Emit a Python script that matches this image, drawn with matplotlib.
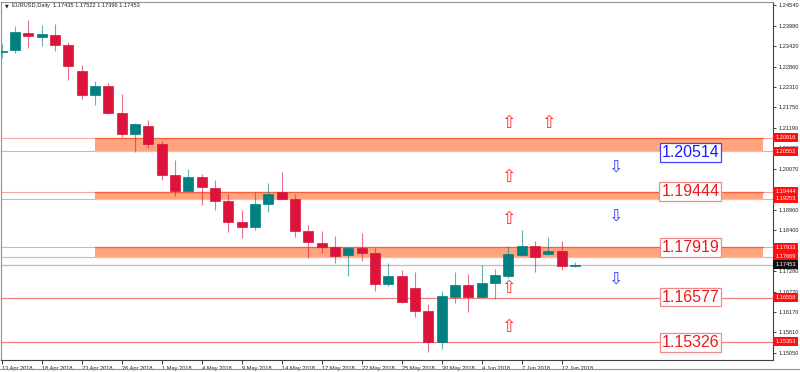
import matplotlib
matplotlib.use("Agg")
import matplotlib.pyplot as plt
import matplotlib.transforms as mtransforms

# daily EURUSD candles, 13 Apr 2018 - 13 Jun 2018
opens = [1.2325, 1.2332, 1.2378, 1.2368, 1.2373, 1.2345, 1.2273, 1.2208, 1.2232, 1.2160, 1.2103,
         1.2124, 1.2076, 1.1990, 1.1948, 1.1984, 1.1955, 1.1920, 1.1861, 1.1848, 1.1911, 1.1943,
         1.1926, 1.1838, 1.1805, 1.1794, 1.1771, 1.1791, 1.1777, 1.1692, 1.1716, 1.1681, 1.1620,
         1.1536, 1.1659, 1.1691, 1.1659, 1.1697, 1.1716, 1.1772, 1.1798, 1.1774, 1.1782, 1.17435]
highs = [1.2348, 1.2398, 1.2413, 1.2399, 1.2402, 1.2353, 1.2291, 1.2247, 1.2241, 1.2211, 1.2133,
         1.2140, 1.2083, 1.2031, 1.2007, 1.1993, 1.1977, 1.1938, 1.1895, 1.1945, 1.1969, 1.1999,
         1.1939, 1.1854, 1.1839, 1.1824, 1.1795, 1.1831, 1.1792, 1.1750, 1.1732, 1.1727, 1.1638,
         1.1675, 1.1727, 1.1720, 1.1745, 1.1733, 1.1797, 1.1840, 1.1811, 1.1821, 1.1811, 1.17522]
lows = [1.2310, 1.2324, 1.2336, 1.2342, 1.2329, 1.2250, 1.2197, 1.2182, 1.2158, 1.2095, 1.2054,
        1.2065, 1.1977, 1.1933, 1.1946, 1.1909, 1.1895, 1.1835, 1.1819, 1.1840, 1.1890, 1.1925,
        1.1821, 1.1763, 1.1777, 1.1750, 1.1716, 1.1757, 1.1675, 1.1689, 1.1642, 1.1604, 1.1507,
        1.1515, 1.1641, 1.1616, 1.1657, 1.1651, 1.1710, 1.1770, 1.1725, 1.1772, 1.1732, 1.17396]
closes = [1.2329, 1.2380, 1.2369, 1.2374, 1.2346, 1.2289, 1.2208, 1.2232, 1.2160, 1.2103, 1.2129,
          1.2075, 1.1990, 1.1948, 1.1985, 1.1959, 1.1920, 1.1861, 1.1848, 1.1912, 1.1939, 1.1926,
          1.1838, 1.1807, 1.1794, 1.1770, 1.1791, 1.1779, 1.1693, 1.1716, 1.1645, 1.1620, 1.1536,
          1.1660, 1.1691, 1.1659, 1.1697, 1.1717, 1.1774, 1.1798, 1.1768, 1.1783, 1.1743, 1.17453]

date_labels = ["13 Apr 2018", "18 Apr 2018", "23 Apr 2018", "26 Apr 2018", "1 May 2018",
               "4 May 2018", "9 May 2018", "14 May 2018", "17 May 2018", "22 May 2018",
               "25 May 2018", "30 May 2018", "4 Jun 2018", "7 Jun 2018", "12 Jun 2018"]
price_ticks = [1.24540, 1.23980, 1.23420, 1.22860, 1.22310, 1.21750, 1.21190, 1.20630,
               1.20070, 1.19510, 1.18960, 1.18400, 1.17840, 1.17280, 1.16720, 1.16170,
               1.15610, 1.15050]

# supply / demand zones (top, bottom) and single levels
zone_tops = [1.20916, 1.19444, 1.17933]
zone_bottoms = [1.20552, 1.19253, 1.17669]
zone_start = 7
level_lines = [1.16558, 1.15353]
last_price = 1.17453

# big level labels
label_prices = [1.20514, 1.19444, 1.17919, 1.16577, 1.15326]
label_colors = ["#1c1cff", "#f01818", "#f01818", "#f01818", "#f01818"]
label_edges = ["#4040ff", "#f08a8a", "#f08a8a", "#f08a8a", "#f08a8a"]

# arrows
up_x = [38, 41, 38, 38, 38, 38]
up_y = [1.2132, 1.2132, 1.1985, 1.1870, 1.1682, 1.1576]
down_x = [46, 46, 46]
down_y = [1.2012, 1.1881, 1.1707]

BULL = "#008080"
BEAR = "#dc143c"
SMALL = dict(fontsize=4.1, family="Liberation Sans")

fig = plt.figure(figsize=(8, 3.72), dpi=100)
ax = fig.add_axes([1 / 800, 12 / 372, 772 / 800, 358 / 372])
ax.set_xlim(-0.05, 57.85)
ax.set_ylim(1.14859, 1.24622)

# full-width level lines
for p in zone_tops + zone_bottoms:
    ax.axhline(p, color="#f6a4a4", lw=0.8, zorder=1)
for p in level_lines:
    ax.axhline(p, color="#f08080", lw=0.9, zorder=1)
ax.axhline(last_price, color="#b4bccb", lw=0.9, zorder=1)

# zones
for top, bot in zip(zone_tops, zone_bottoms):
    ax.fill_between([zone_start, 57.07], bot, top, color="#ffa47e", lw=0, zorder=2)
    ax.plot([zone_start, 57.07], [top, top], color="#f8603c", lw=0.9, zorder=2)
    ax.plot([zone_start, 57.07], [bot, bot], color="#ffb899", lw=0.8, zorder=2)

# candles
idx = list(range(len(opens)))
for i in idx:
    o, h, l, c = opens[i], highs[i], lows[i], closes[i]
    col = BULL if c >= o else BEAR
    ax.vlines(i, l, h, color=col, lw=0.8, alpha=0.6, zorder=3)
    ax.bar(i, max(abs(c - o), 0.00006), bottom=min(o, c), width=0.75, color=col,
           edgecolor=col, lw=0.5, zorder=4)

# arrows
for x, y in zip(up_x, up_y):
    ax.text(x, y, "\u21e7", color="#ff2a2a", fontsize=12.5, ha="center", va="center",
            family="DejaVu Sans", zorder=5)
for x, y in zip(down_x, down_y):
    ax.text(x, y, "\u21e9", color="#3a3aff", fontsize=12.5, ha="center", va="center",
            family="DejaVu Sans", zorder=5)

# big labels
for p, tc, ec in zip(label_prices, label_colors, label_edges):
    ax.text(51.65, p, "%.5f" % p, color=tc, fontsize=11.5, family="Liberation Sans",
            ha="center", va="center", zorder=6,
            bbox=dict(boxstyle="square,pad=0.12", fc="white", ec=ec, lw=0.9))

# right price axis
ax.yaxis.tick_right()
ax.set_yticks(price_ticks)
ax.set_yticklabels(["%.5f" % t for t in price_ticks], **SMALL)
ax.tick_params(axis="y", length=2.5, width=0.6, pad=1.5, colors="#202020")

trans = mtransforms.blended_transform_factory(ax.transAxes, ax.transData)
for p in zone_tops + zone_bottoms + level_lines:
    ax.text(1.003, p, "%.5f" % p, transform=trans, color="white", ha="left", va="center",
            clip_on=False, zorder=7, **SMALL,
            bbox=dict(boxstyle="square,pad=0.35", fc="#ff1010", ec="none"))
ax.text(1.003, last_price, "%.5f" % last_price, transform=trans, color="white",
        ha="left", va="center", clip_on=False, zorder=7, **SMALL,
        bbox=dict(boxstyle="square,pad=0.35", fc="#101010", ec="none"))

# date axis
ax.set_xticks(list(range(0, len(opens), 3)))
ax.set_xticklabels(date_labels, ha="left", **SMALL)
ax.tick_params(axis="x", length=3, width=0.6, pad=1.5, colors="#202020")

for s in ["left", "top"]:
    ax.spines[s].set_color("#909090")
    ax.spines[s].set_linewidth(0.8)
for s in ["right", "bottom"]:
    ax.spines[s].set_color("#404040")
    ax.spines[s].set_linewidth(0.8)

fig.text(5 / 800, 1 - 6 / 372, "\u25bc", fontsize=3.5, color="#202020", ha="left", va="center")
fig.text(12 / 800, 1 - 6 / 372, "EURUSD,Daily  1.17435 1.17522 1.17396 1.17453",
         color="#202020", ha="left", va="center", **SMALL)
fig.add_artist(plt.Line2D([0, 1], [1 - 369 / 372] * 2, color="#909090", lw=0.8))

fig.savefig("out.png", dpi=100)
